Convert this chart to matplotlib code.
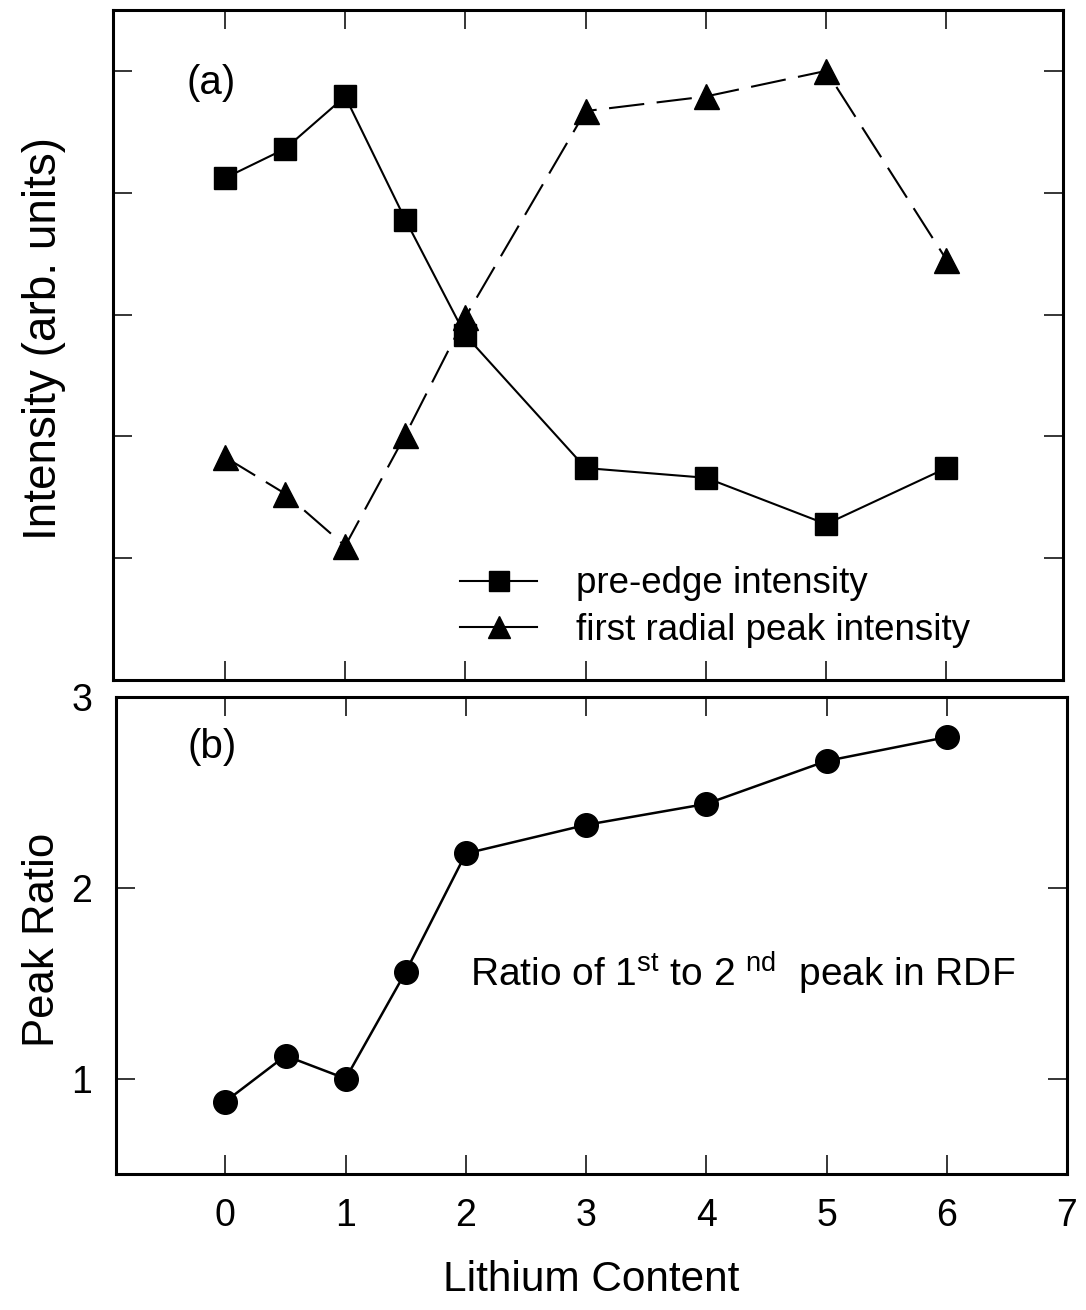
import matplotlib
matplotlib.use("Agg")
import matplotlib.pyplot as plt
from matplotlib.lines import Line2D

plt.rcParams['font.family'] = ['Liberation Sans', 'DejaVu Sans']
plt.rcParams['mathtext.fontset'] = 'custom'
plt.rcParams['mathtext.rm'] = 'Liberation Sans'
plt.rcParams['mathtext.it'] = 'Liberation Sans'

# lithium content
li = [0, 0.5, 1, 1.5, 2, 3, 4, 5, 6]

# (a) intensities, arbitrary units
pre_edge = [4.12, 4.36, 4.79, 3.78, 2.83, 1.74, 1.66, 1.28, 1.74]
first_peak = [1.83, 1.53, 1.10, 2.01, 2.98, 4.67, 4.79, 5.00, 3.45]

# (b) ratio of 1st to 2nd RDF peak
peak_ratio = [0.88, 1.12, 1.00, 1.56, 2.18, 2.33, 2.44, 2.665, 2.79]

xticks = [0, 1, 2, 3, 4, 5, 6, 7]

fig = plt.figure(figsize=(10.86, 13.1), dpi=100)
ax1 = fig.add_axes([0.1041, 0.4809, 0.8748, 0.5115])
ax2 = fig.add_axes([0.1068, 0.1038, 0.8757, 0.3641])

for ax in (ax1, ax2):
    for s in ax.spines.values():
        s.set_linewidth(2.2)
    ax.tick_params(direction='in', length=14, width=1.1, top=True, right=True,
                   labelsize=27, pad=17)

# ---- panel (a)
ax1.plot(li, pre_edge, color='black', lw=1.5, marker='s', ms=16)
ax1.plot(li, first_peak, color='black', lw=1.5, ls=(0, (17, 6)), marker='^', ms=18)
ax1.set_xlim(-0.93, 6.97)
ax1.set_ylim(0, 5.5)
ax1.set_xticks(xticks[:-1])
ax1.set_yticks([1, 2, 3, 4, 5])
ax1.tick_params(labelbottom=False, labelleft=False)
ax1.set_ylabel("Intensity (arb. units)", fontsize=33)
ax1.yaxis.set_label_coords(-0.05, 0.51)
ax1.text(0.077, 0.891, "(a)", transform=ax1.transAxes, fontsize=29,
         ha='left', va='center')

handles = [Line2D([], [], color='black', lw=1.5, marker='s', ms=14),
           Line2D([], [], color='black', lw=1.5, marker='^', ms=16)]
ax1.legend(handles, ["pre-edge intensity", "first radial peak intensity"],
           frameon=False, fontsize=26.5, loc='center left',
           bbox_to_anchor=(0.346, 0.109), handlelength=2.1,
           handletextpad=1.05, labelspacing=0.3, borderpad=0)

# ---- panel (b)
ax2.plot(li, peak_ratio, color='black', lw=1.8, marker='o', ms=17)
ax2.set_xlim(-0.91, 7.0)
ax2.set_ylim(0.5, 3)
ax2.set_xticks(xticks)
ax2.set_yticks([1, 2, 3])
ax2.set_xlabel("Lithium Content", fontsize=30.5)
ax2.xaxis.set_label_coords(0.5, -0.18)
ax2.set_ylabel("Peak Ratio", fontsize=31.5)
ax2.yaxis.set_label_coords(-0.056, 0.49)
ax2.text(0.075, 0.895, "(b)", transform=ax2.transAxes, fontsize=29,
         ha='left', va='center')
ax2.text(0.372, 0.42, r"Ratio of 1$^{\rm st}$ to 2 $^{\rm nd}$  peak in RDF",
         transform=ax2.transAxes, fontsize=28, ha='left', va='center')

fig.savefig("out.png", dpi=100)
